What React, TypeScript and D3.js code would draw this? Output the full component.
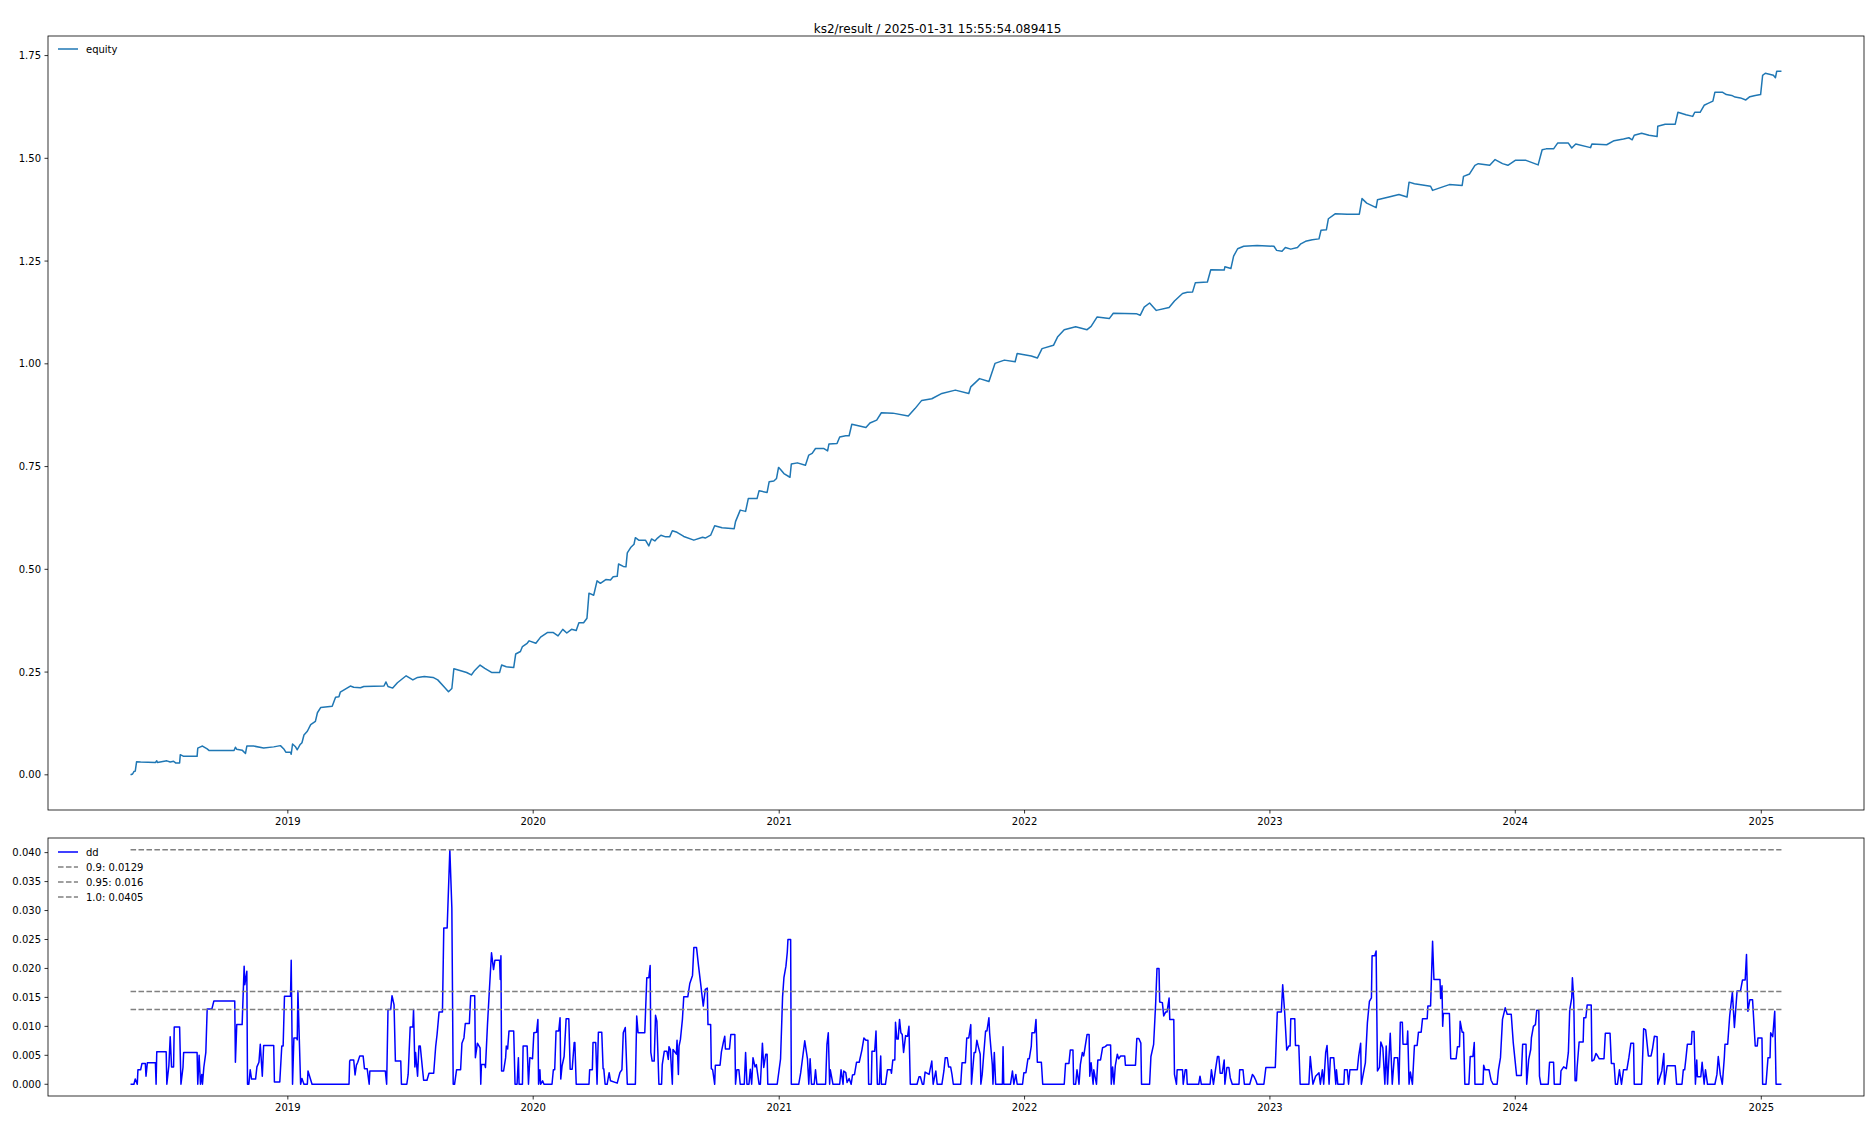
import React from "react";
import * as d3 from "d3";

// ---------------- data ----------------
const BASE_DATE = Date.UTC(2018, 0, 1); // day 0 of the day offsets below
const TITLE = "ks2/result / 2025-01-31 15:55:54.089415";

const equityDays = [131,134,136,138,140,146,168,170,171,185,190,195,198,204,205,210,230,231,235,238,245,248,285,287,289,297,302,304,314,329,344,354,359,362,369,370,372,376,379,383,386,389,394,399,406,409,414,431,436,441,443,453,458,463,473,478,508,511,514,521,528,541,551,558,568,581,588,598,604,609,612,621,631,638,643,651,658,668,680,683,690,701,704,711,714,721,724,734,741,751,760,767,774,780,787,794,798,805,810,813,820,825,830,838,845,849,855,857,864,868,870,875,880,882,887,897,902,906,911,915,920,927,933,937,944,954,969,982,986,994,1000,1011,1029,1031,1038,1046,1050,1063,1066,1078,1081,1088,1092,1095,1098,1103,1112,1114,1123,1135,1140,1145,1150,1162,1168,1170,1182,1186,1195,1200,1204,1217,1225,1231,1241,1248,1265,1288,1298,1308,1323,1338,1358,1378,1381,1394,1408,1417,1431,1447,1450,1471,1480,1487,1504,1510,1520,1537,1554,1560,1569,1587,1593,1627,1633,1639,1647,1657,1676,1684,1688,1696,1703,1711,1715,1733,1738,1758,1759,1768,1772,1778,1787,1807,1832,1836,1844,1849,1857,1867,1872,1879,1889,1899,1902,1910,1913,1923,1941,1959,1963,1970,1984,1986,2003,2018,2030,2033,2041,2065,2068,2082,2093,2112,2114,2123,2131,2136,2153,2161,2172,2180,2191,2207,2225,2231,2237,2248,2254,2270,2275,2281,2303,2305,2327,2338,2352,2360,2365,2368,2379,2390,2402,2403,2414,2429,2433,2445,2455,2458,2466,2472,2477,2485,2488,2499,2505,2513,2518,2526,2534,2540,2548,2556,2559,2563,2575,2578,2580,2587];
const equityValues = [0.000,0.002,0.008,0.009,0.032,0.031,0.030,0.034,0.030,0.034,0.031,0.033,0.029,0.029,0.049,0.045,0.045,0.065,0.068,0.070,0.063,0.059,0.059,0.067,0.062,0.060,0.052,0.070,0.070,0.065,0.068,0.071,0.063,0.055,0.055,0.050,0.075,0.069,0.061,0.073,0.078,0.097,0.106,0.122,0.130,0.151,0.164,0.167,0.189,0.190,0.201,0.211,0.216,0.213,0.212,0.215,0.216,0.226,0.215,0.211,0.224,0.241,0.231,0.237,0.239,0.237,0.231,0.213,0.202,0.210,0.258,0.254,0.249,0.243,0.254,0.267,0.259,0.249,0.249,0.267,0.263,0.261,0.294,0.300,0.312,0.320,0.326,0.320,0.335,0.346,0.346,0.338,0.354,0.345,0.354,0.351,0.370,0.370,0.381,0.442,0.437,0.472,0.466,0.475,0.474,0.482,0.483,0.513,0.507,0.506,0.540,0.553,0.561,0.577,0.571,0.571,0.557,0.574,0.569,0.576,0.583,0.579,0.579,0.594,0.590,0.580,0.571,0.578,0.576,0.583,0.606,0.601,0.599,0.616,0.644,0.641,0.672,0.672,0.691,0.687,0.713,0.715,0.721,0.748,0.743,0.733,0.724,0.756,0.759,0.753,0.778,0.782,0.794,0.794,0.788,0.805,0.806,0.822,0.825,0.825,0.853,0.848,0.845,0.856,0.863,0.881,0.880,0.873,0.891,0.911,0.915,0.928,0.936,0.928,0.944,0.964,0.957,1.001,1.009,1.005,1.025,1.019,1.014,1.037,1.045,1.065,1.083,1.090,1.083,1.091,1.114,1.110,1.123,1.122,1.118,1.138,1.148,1.130,1.137,1.153,1.159,1.171,1.174,1.175,1.197,1.199,1.229,1.228,1.236,1.232,1.262,1.280,1.286,1.288,1.286,1.276,1.274,1.283,1.279,1.283,1.292,1.298,1.302,1.304,1.325,1.326,1.353,1.365,1.364,1.364,1.402,1.391,1.380,1.399,1.406,1.412,1.406,1.442,1.438,1.432,1.422,1.430,1.436,1.434,1.456,1.462,1.483,1.487,1.483,1.497,1.487,1.483,1.495,1.495,1.484,1.521,1.523,1.523,1.537,1.537,1.525,1.535,1.526,1.535,1.533,1.543,1.547,1.550,1.545,1.556,1.561,1.556,1.553,1.578,1.583,1.583,1.612,1.606,1.602,1.612,1.612,1.629,1.633,1.639,1.661,1.661,1.655,1.653,1.649,1.647,1.642,1.650,1.653,1.655,1.702,1.707,1.702,1.696,1.712,1.712];

const ddDays = [131,136,138,141,142,146,148,153,154,156,168,169,170,184,185,188,190,192,195,196,204,206,209,210,230,231,233,235,237,238,240,243,245,252,255,286,287,289,297,300,301,304,305,307,309,311,317,319,322,324,327,329,344,345,353,356,358,360,369,370,372,374,378,379,380,382,384,386,389,394,395,401,456,457,458,463,465,467,469,472,477,479,483,486,487,510,512,514,518,520,523,525,533,534,542,544,547,551,552,554,555,558,560,562,565,567,572,575,582,585,587,590,595,597,602,606,609,611,613,616,622,624,627,629,635,637,643,644,647,651,652,653,658,659,662,665,668,671,673,679,680,681,682,683,686,689,690,692,694,701,703,706,708,709,714,715,721,723,725,729,731,735,737,738,740,741,744,746,758,760,762,764,768,770,771,773,776,779,783,785,788,791,792,794,813,814,818,819,823,825,827,832,834,835,837,840,843,845,855,859,862,864,867,870,882,884,886,896,899,902,904,905,907,910,912,914,917,921,922,925,929,931,932,934,937,938,943,944,946,947,949,952,954,960,963,967,969,973,976,979,983,986,989,990,994,995,997,1000,1001,1008,1010,1013,1015,1016,1022,1024,1030,1031,1033,1036,1038,1044,1046,1048,1051,1053,1055,1057,1060,1062,1066,1068,1071,1073,1076,1078,1079,1093,1098,1101,1103,1106,1108,1109,1113,1114,1125,1128,1134,1138,1140,1142,1144,1148,1150,1152,1165,1167,1169,1171,1172,1176,1186,1188,1191,1192,1195,1197,1200,1203,1205,1208,1211,1215,1219,1222,1225,1228,1229,1233,1234,1238,1240,1242,1245,1247,1248,1254,1257,1262,1263,1265,1268,1269,1271,1273,1275,1277,1279,1281,1284,1287,1289,1291,1301,1304,1306,1309,1311,1313,1319,1323,1325,1329,1331,1338,1341,1343,1346,1348,1351,1353,1355,1366,1368,1373,1375,1378,1381,1382,1386,1388,1390,1392,1395,1396,1398,1400,1403,1405,1408,1409,1413,1414,1416,1418,1428,1429,1430,1440,1443,1445,1448,1450,1458,1460,1463,1466,1468,1471,1472,1476,1478,1480,1486,1488,1520,1522,1527,1529,1533,1534,1537,1539,1542,1544,1547,1549,1554,1557,1558,1560,1563,1564,1568,1570,1574,1577,1581,1584,1589,1590,1592,1594,1596,1599,1601,1604,1610,1611,1626,1628,1631,1634,1635,1647,1649,1653,1656,1658,1661,1662,1666,1668,1671,1673,1676,1677,1683,1684,1687,1688,1696,1697,1700,1702,1703,1720,1722,1724,1737,1739,1742,1745,1748,1750,1752,1755,1758,1759,1762,1765,1767,1770,1780,1781,1786,1788,1796,1800,1802,1805,1807,1817,1820,1834,1837,1843,1845,1848,1851,1854,1856,1857,1863,1864,1869,1871,1884,1886,1890,1894,1899,1901,1904,1906,1909,1911,1914,1916,1921,1924,1925,1927,1936,1937,1941,1943,1945,1956,1958,1961,1962,1966,1968,1971,1974,1977,1978,1982,1984,1986,1989,1991,1994,1997,1999,2001,2005,2008,2011,2016,2018,2020,2023,2024,2030,2031,2033,2035,2038,2041,2045,2047,2051,2053,2060,2061,2065,2068,2070,2079,2080,2082,2083,2084,2093,2095,2103,2105,2108,2109,2112,2114,2116,2122,2124,2128,2130,2131,2143,2144,2146,2152,2155,2158,2164,2166,2169,2172,2176,2179,2185,2188,2193,2200,2202,2207,2208,2211,2214,2215,2218,2221,2223,2226,2227,2229,2240,2242,2248,2249,2258,2259,2263,2267,2270,2272,2275,2276,2278,2280,2282,2283,2286,2292,2293,2296,2298,2304,2305,2308,2311,2313,2316,2323,2325,2332,2334,2338,2340,2343,2346,2349,2352,2357,2360,2363,2367,2368,2379,2382,2385,2389,2393,2395,2398,2402,2403,2409,2412,2413,2417,2429,2431,2439,2441,2443,2445,2447,2453,2454,2457,2459,2461,2462,2467,2469,2472,2474,2477,2488,2491,2493,2496,2499,2502,2503,2507,2510,2514,2517,2521,2526,2529,2533,2535,2537,2540,2544,2548,2551,2552,2558,2559,2564,2567,2570,2571,2574,2577,2579,2587];
const ddValues = [0,0,0.0009,0,0.0025,0.0025,0.0036,0.0036,0.0014,0.0037,0.0037,0,0.0056,0.0056,0,0.0032,0.0082,0.0030,0.0030,0.0099,0.0099,0,0.0029,0.0055,0.0055,0,0.0050,0,0.0017,0,0.0029,0.0055,0.0130,0.0130,0.0144,0.0144,0.0038,0.0103,0.0103,0.0204,0.0172,0.0195,0,0,0.0025,0.0009,0.0009,0.0030,0.0038,0.0069,0.0014,0.0067,0.0067,0.0004,0.0004,0.0066,0.0066,0.0152,0.0152,0.0214,0,0.0080,0.0080,0.0077,0.0161,0.0080,0,0.0010,0,0,0.0023,0,0,0.0040,0.0042,0.0042,0.0016,0.0033,0.0038,0.0049,0.0049,0.0027,0.0027,0,0.0023,0.0023,0,0.0129,0.0129,0.0153,0.0137,0.0040,0.0040,0,0,0.0017,0.0099,0.0099,0.0129,0.0030,0.0055,0.0014,0.0066,0.0066,0.0030,0.0007,0.0007,0.0019,0.0019,0.0066,0.0086,0.0125,0.0125,0.0270,0.0270,0.0405,0.0304,0,0,0.0025,0.0025,0.0071,0.0080,0.0105,0.0105,0.0153,0.0153,0.0046,0.0071,0.0063,0,0.0034,0.0034,0.0029,0.0103,0.0166,0.0227,0.0198,0.0214,0.0214,0.0214,0.0181,0.0222,0.0023,0.0023,0.0046,0.0066,0.0061,0.0092,0.0092,0,0,0.0046,0,0,0.0066,0.0066,0,0.0046,0.0044,0.0089,0.0090,0.0112,0,0.0025,0,0.0006,0,0,0.0025,0.0025,0.0092,0.0092,0.0115,0.0009,0.0032,0.0048,0.0113,0.0113,0.0026,0.0026,0.0072,0.0072,0,0,0.0025,0.0025,0.0072,0.0072,0,0.0090,0.0090,0.0027,0.0027,0,0,0.0020,0.0006,0.0002,0.0020,0.0025,0.0089,0.0098,0,0,0.0118,0.0089,0.0089,0.0184,0.0184,0.0205,0.0055,0.0040,0.0040,0.0119,0.0109,0,0,0.0034,0.0057,0.0057,0.0043,0.0065,0.0060,0,0.0060,0.0052,0.0076,0.0017,0.0066,0.0077,0.0112,0.0151,0.0151,0.0174,0.0188,0.0236,0.0236,0.0204,0.0175,0.0135,0.0164,0.0166,0.0103,0.0103,0.0027,0.0025,0,0.0033,0.0033,0.0056,0.0073,0.0083,0.0061,0.0061,0.0086,0.0086,0,0.0025,0.0025,0,0,0.0055,0,0,0.0026,0,0.0046,0.0030,0.0034,0,0,0.0071,0.0029,0.0052,0.0052,0,0,0.0044,0.0151,0.0184,0.0204,0.0228,0.0250,0.0250,0,0,0.0020,0.0075,0.0044,0,0.0044,0,0,0.0025,0,0,0.0069,0.0089,0,0.0025,0,0,0.0025,0,0.0023,0.0020,0.0003,0.0010,0,0.0016,0.0017,0.0038,0.0038,0.0059,0.0080,0.0076,0.0076,0,0,0.0057,0.0057,0.0092,0,0,0.0049,0,0,0.0025,0.0025,0.0019,0.0042,0.0042,0.0107,0.0078,0.0078,0.0112,0.0089,0.0086,0.0055,0.0084,0.0083,0.0100,0,0,0.0013,0.0013,0,0,0.0021,0.0017,0.0040,0,0.0023,0,0,0.0023,0.0046,0.0046,0.0030,0.0030,0.0017,0,0,0.0037,0.0037,0.0080,0.0080,0.0103,0,0.0055,0.0055,0.0076,0.0066,0.0052,0,0.0017,0.0048,0.0092,0.0092,0.0115,0.0089,0.0034,0,0.0055,0,0,0.0065,0,0,0.0023,0,0.0017,0,0,0.0020,0.0020,0.0044,0.0044,0.0066,0.0089,0.0089,0.0112,0.0038,0.0038,0,0,0.0036,0.0036,0.0059,0.0059,0,0,0.0025,0,0.0034,0.0055,0.0049,0.0086,0.0086,0.0014,0.0037,0,0.0025,0,0.0042,0.0042,0.0063,0.0065,0.0068,0.0068,0,0.0030,0,0.0032,0.0052,0.0044,0.0049,0.0049,0.0033,0.0033,0.0079,0.0079,0.0071,0,0,0.0048,0.0069,0.0139,0.0200,0.0200,0.0142,0.0141,0.0118,0.0125,0.0125,0.0149,0.0112,0.0112,0.0017,0,0.0025,0.0025,0,0.0025,0.0025,0,0,0.0014,0,0,0.0025,0,0.0025,0.0048,0.0048,0.0019,0.0019,0.0042,0,0.0029,0.0029,0.0011,0,0,0.0025,0.0025,0,0,0.0017,0.0014,0.0007,0,0,0.0029,0.0029,0.0125,0.0125,0.0172,0.0123,0.0059,0.0066,0.0066,0.0113,0.0113,0.0067,0.0067,0,0,0.0048,0,0.0014,0.0020,0,0.0025,0,0.0055,0.0067,0,0.0046,0.0046,0,0.0025,0,0,0.0025,0.0025,0,0.0025,0.0025,0.0048,0.0071,0,0.0025,0.0037,0.0106,0.0143,0.0149,0.0222,0.0222,0.0230,0.0023,0.0029,0.0073,0.0063,0,0.0066,0,0.0088,0,0.0046,0.0046,0,0.0107,0.0107,0.0069,0.0069,0.0092,0,0.0021,0,0.0067,0.0067,0.0090,0.0090,0.0113,0.0113,0.0135,0.0135,0.0247,0.0181,0.0181,0.0148,0.0170,0.0100,0.0122,0.0122,0.0044,0.0044,0.0065,0.0065,0.0109,0.0090,0.0090,0,0,0.0048,0.0048,0.0072,0,0,0.0033,0.0025,0.0025,0.0007,0,0,0.0025,0.0046,0.0112,0.0132,0.0121,0.0121,0.0072,0.0015,0.0015,0.0069,0.0069,0,0.0043,0.0060,0.0080,0.0100,0.0103,0.0128,0.0128,0.0014,0,0,0.0038,0.0038,0,0,0.0023,0.0030,0.0027,0.0055,0.0128,0.0149,0.0184,0.0146,0.0006,0.0006,0.0029,0.0073,0.0073,0.0115,0.0115,0.0137,0.0137,0.0040,0.0042,0.0053,0.0050,0.0044,0.0044,0.0088,0.0088,0.0036,0.0036,0,0,0.0025,0,0.0025,0.0025,0.0046,0.0071,0.0071,0,0,0.0096,0.0094,0.0049,0.0049,0.0060,0.0083,0.0082,0,0.0023,0.0053,0,0.0032,0.0032,0,0,0.0025,0.0025,0.0046,0.0069,0.0069,0.0091,0.0091,0,0.0042,0.0013,0.0013,0.0038,0,0.0025,0,0,0.0017,0.0048,0.0017,0,0.0046,0.0069,0.0069,0.0118,0.0159,0.0098,0.0161,0.0161,0.0180,0.0180,0.0224,0.0126,0.0146,0.0146,0.0066,0.0066,0.0080,0.0080,0,0,0.0046,0.0046,0.0089,0.0082,0.0126,0,0];

const quantileLabels = ["0.9: 0.0129", "0.95: 0.016", "1.0: 0.0405"];
const quantileValues = [0.0129, 0.016, 0.0405];

const yearTicks = [2019, 2020, 2021, 2022, 2023, 2024, 2025];
const equityTicks = [0, 0.25, 0.5, 0.75, 1.0, 1.25, 1.5, 1.75];
const ddTicks = [0, 0.005, 0.01, 0.015, 0.02, 0.025, 0.03, 0.035, 0.04];

// ---------------- layout ----------------
const W = 1875;
const H = 1125;
const FONT = "DejaVu Sans, Liberation Sans, sans-serif";
const L = 48, R = 1864;
const top1 = 36, bot1 = 810;
const top2 = 838, bot2 = 1096;
const TICK = 3.5, PAD = 3.5;

const toDate = (d: number) => new Date(BASE_DATE + d * 86400000);

type Pt = { date: Date; v: number };

function padDomain(lo: number, hi: number): [number, number] {
  const m = (hi - lo) * 0.05;
  return [lo - m, hi + m];
}

export default function App() {
  const equity: Pt[] = equityDays.map((d, i) => ({ date: toDate(d), v: equityValues[i] }));
  const dd: Pt[] = ddDays.map((d, i) => ({ date: toDate(d), v: ddValues[i] }));

  const allDays = [...equityDays, ...ddDays];
  const [d0, d1] = padDomain(d3.min(allDays)!, d3.max(allDays)!);
  const x = d3.scaleUtc().domain([toDate(d0), toDate(d1)]).range([L, R]);

  const [e0, e1] = padDomain(d3.min(equityValues)!, d3.max(equityValues)!);
  const y1 = d3.scaleLinear().domain([e0, e1]).range([bot1, top1]);

  const ddMax = Math.max(d3.max(ddValues)!, d3.max(quantileValues)!);
  const [q0, q1] = padDomain(Math.min(0, d3.min(ddValues)!), ddMax);
  const y2 = d3.scaleLinear().domain([q0, q1]).range([bot2, top2]);

  const line1 = d3.line<Pt>().x((p) => x(p.date)).y((p) => y1(p.v));
  const line2 = d3.line<Pt>().x((p) => x(p.date)).y((p) => y2(p.v));

  const firstDate = toDate(d3.min(ddDays)!);
  const lastDate = toDate(d3.max(ddDays)!);

  const yearDates = yearTicks.map((yr) => new Date(Date.UTC(yr, 0, 1)));

  const xAxis = (bottom: number, key: string) => (
    <g key={key}>
      {yearDates.map((dt, i) => (
        <g key={i}>
          <line x1={x(dt)} x2={x(dt)} y1={bottom} y2={bottom + TICK} stroke="#000" strokeWidth={0.8} />
          <text x={x(dt)} y={bottom + TICK + PAD} dy="0.76em" textAnchor="middle" fontSize={10} fontFamily={FONT} fill="#000">
            {yearTicks[i]}
          </text>
        </g>
      ))}
    </g>
  );

  const yAxis = (scale: d3.ScaleLinear<number, number>, ticks: number[], fmt: (v: number) => string, key: string) => (
    <g key={key}>
      {ticks.map((t, i) => (
        <g key={i}>
          <line x1={L - TICK} x2={L} y1={scale(t)} y2={scale(t)} stroke="#000" strokeWidth={0.8} />
          <text x={L - TICK - PAD} y={scale(t)} dy="0.36em" textAnchor="end" fontSize={10} fontFamily={FONT} fill="#000">
            {fmt(t)}
          </text>
        </g>
      ))}
    </g>
  );

  const f2 = d3.format(".2f");
  const f3 = d3.format(".3f");
  const dash = "5.55,2.4";

  return (
    <svg width={W} height={H} style={{ position: "absolute", left: 0, top: 0, background: "#fff" }}>
      <rect x={0} y={0} width={W} height={H} fill="#fff" />
      <text x={W / 2} y={28.5} dy="0.36em" textAnchor="middle" fontSize={12} fontFamily={FONT} fill="#000">
        {TITLE}
      </text>

      {/* top axes */}
      <defs>
        <clipPath id="c1"><rect x={L} y={top1} width={R - L} height={bot1 - top1} /></clipPath>
        <clipPath id="c2"><rect x={L} y={top2} width={R - L} height={bot2 - top2} /></clipPath>
      </defs>
      <path d={line1(equity) || ""} fill="none" stroke="#1f77b4" strokeWidth={1.5} strokeLinejoin="round" clipPath="url(#c1)" />
      <rect x={L} y={top1} width={R - L} height={bot1 - top1} fill="none" stroke="#000" strokeWidth={0.8} />
      {xAxis(bot1, "xa1")}
      {yAxis(y1, equityTicks, f2, "ya1")}
      <line x1={58} x2={78} y1={49} y2={49} stroke="#1f77b4" strokeWidth={1.5} />
      <text x={86} y={49} dy="0.36em" fontSize={10} fontFamily={FONT} fill="#000">equity</text>

      {/* bottom axes */}
      <path d={line2(dd) || ""} fill="none" stroke="#0000ff" strokeWidth={1.5} strokeLinejoin="round" clipPath="url(#c2)" />
      {quantileValues.map((q, i) => (
        <line key={i} x1={x(firstDate)} x2={x(lastDate)} y1={y2(q)} y2={y2(q)} stroke="#808080" strokeWidth={1.5} strokeDasharray={dash} />
      ))}
      <rect x={L} y={top2} width={R - L} height={bot2 - top2} fill="none" stroke="#000" strokeWidth={0.8} />
      {xAxis(bot2, "xa2")}
      {yAxis(y2, ddTicks, f3, "ya2")}
      <line x1={58} x2={78} y1={852} y2={852} stroke="#0000ff" strokeWidth={1.5} />
      <text x={86} y={852} dy="0.36em" fontSize={10} fontFamily={FONT} fill="#000">dd</text>
      {quantileLabels.map((lab, i) => (
        <g key={i}>
          <line x1={58} x2={78} y1={867 + i * 15} y2={867 + i * 15} stroke="#808080" strokeWidth={1.5} strokeDasharray={dash} />
          <text x={86} y={867 + i * 15} dy="0.36em" fontSize={10} fontFamily={FONT} fill="#000">{lab}</text>
        </g>
      ))}
    </svg>
  );
}
